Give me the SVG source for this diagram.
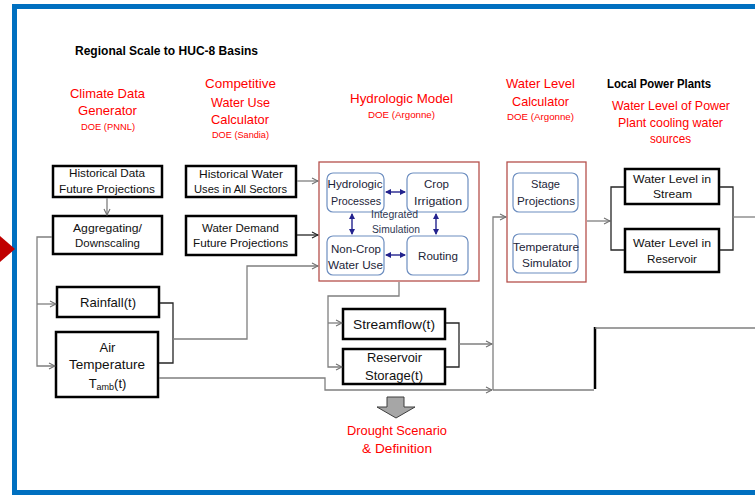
<svg xmlns="http://www.w3.org/2000/svg" width="755" height="495" viewBox="0 0 755 495">
<style>
text{font-family:"Liberation Sans",Arial,sans-serif;text-anchor:middle}
.red{fill:#ff0000;font-size:13px}
.rs{fill:#ff0000;font-size:9.5px}
.hd{fill:#000;font-size:12px;font-weight:bold}
.lbl{fill:#111;font-size:11.8px}
.big{fill:#111;font-size:13px}
.in{fill:#1c2438;font-size:11.8px}
.sim{fill:#2f3852;font-size:10px}
.bx{fill:#fff;stroke:#000;stroke-width:2.5}
.rb{fill:#fff;stroke:#6d8ec0;stroke-width:1.2}
.mb{fill:#fff;stroke:#b5504c;stroke-width:1.3}
.g{fill:none;stroke:#7f7f7f;stroke-width:1.3}
.d{fill:none;stroke:#262626;stroke-width:1.3}
.nv{fill:none;stroke:#23238e;stroke-width:1.4}
</style>
<defs>
<marker id="ag" markerWidth="8" markerHeight="8" refX="7" refY="4" orient="auto" markerUnits="userSpaceOnUse"><path d="M1,1 L7,4 L1,7" fill="none" stroke="#6f6f6f" stroke-width="1.1"/></marker>
<marker id="ad" markerWidth="8" markerHeight="8" refX="7" refY="4" orient="auto" markerUnits="userSpaceOnUse"><path d="M1,1 L7,4 L1,7" fill="none" stroke="#222" stroke-width="1.1"/></marker>
<marker id="an" markerWidth="6" markerHeight="6" refX="5" refY="3" orient="auto-start-reverse" markerUnits="userSpaceOnUse"><path d="M0,0 L6,3 L0,6 z" fill="#23238e"/></marker>
</defs>
<rect width="755" height="495" fill="#fff"/>
<rect x="14.5" y="6.5" width="800" height="486" fill="none" stroke="#0070c0" stroke-width="5"/>
<polygon points="0,236 15,249 0,262" fill="#c00000"/>

<g id="headings">
<text class="hd" x="166.5" y="55" textLength="183" lengthAdjust="spacingAndGlyphs">Regional Scale to HUC-8 Basins</text>
<text class="red" x="107.5" y="98" textLength="75" lengthAdjust="spacingAndGlyphs">Climate Data</text>
<text class="red" x="107.5" y="114.5" textLength="59" lengthAdjust="spacingAndGlyphs">Generator</text>
<text class="rs" x="108" y="130" textLength="54" lengthAdjust="spacingAndGlyphs">DOE (PNNL)</text>
<text class="red" x="240.5" y="88" textLength="71" lengthAdjust="spacingAndGlyphs">Competitive</text>
<text class="red" x="240.5" y="106.5" textLength="59" lengthAdjust="spacingAndGlyphs">Water Use</text>
<text class="red" x="240" y="124" textLength="58" lengthAdjust="spacingAndGlyphs">Calculator</text>
<text class="rs" x="240.5" y="138" textLength="57" lengthAdjust="spacingAndGlyphs">DOE (Sandia)</text>
<text class="red" x="401.5" y="103" textLength="103" lengthAdjust="spacingAndGlyphs">Hydrologic Model</text>
<text class="rs" x="401.5" y="118" textLength="67" lengthAdjust="spacingAndGlyphs">DOE (Argonne)</text>
<text class="red" x="540.5" y="88" textLength="69" lengthAdjust="spacingAndGlyphs">Water Level</text>
<text class="red" x="540.5" y="106" textLength="57" lengthAdjust="spacingAndGlyphs">Calculator</text>
<text class="rs" x="540.5" y="120" textLength="67" lengthAdjust="spacingAndGlyphs">DOE (Argonne)</text>
<text class="hd" x="659" y="88" textLength="104" lengthAdjust="spacingAndGlyphs">Local Power Plants</text>
<text class="red" x="671" y="110" textLength="118" lengthAdjust="spacingAndGlyphs">Water Level of  Power</text>
<text class="red" x="670.5" y="127" textLength="105" lengthAdjust="spacingAndGlyphs">Plant cooling water</text>
<text class="red" x="670.5" y="143" textLength="41" lengthAdjust="spacingAndGlyphs">sources</text>
</g>

<g id="hist-data">
<rect class="bx" x="53" y="166" width="109" height="31"/>
<text class="lbl" x="107" y="177" textLength="76" lengthAdjust="spacingAndGlyphs">Historical Data</text>
<text class="lbl" x="107" y="193" textLength="96" lengthAdjust="spacingAndGlyphs">Future Projections</text>
</g>
<g id="aggregating">
<rect class="bx" x="53" y="216" width="109" height="38"/>
<text class="lbl" x="107.5" y="232" textLength="69" lengthAdjust="spacingAndGlyphs">Aggregating/</text>
<text class="lbl" x="107.5" y="247" textLength="65" lengthAdjust="spacingAndGlyphs">Downscaling</text>
</g>
<g id="hist-water">
<rect class="bx" x="186" y="166" width="110" height="31"/>
<text class="lbl" x="241" y="178" textLength="84" lengthAdjust="spacingAndGlyphs">Historical Water</text>
<text class="lbl" x="240.5" y="193" textLength="93" lengthAdjust="spacingAndGlyphs">Uses in All Sectors</text>
</g>
<g id="water-demand">
<rect class="bx" x="186" y="216" width="110" height="39"/>
<text class="lbl" x="240.5" y="232" textLength="77" lengthAdjust="spacingAndGlyphs">Water Demand</text>
<text class="lbl" x="240.5" y="247" textLength="95" lengthAdjust="spacingAndGlyphs">Future Projections</text>
</g>
<g id="rainfall">
<rect class="bx" x="57" y="287" width="102" height="30"/>
<text class="big" x="108" y="307" textLength="56" lengthAdjust="spacingAndGlyphs">Rainfall(t)</text>
</g>
<g id="air-temperature">
<rect class="bx" x="56" y="332" width="102" height="65"/>
<text class="big" x="107.5" y="352">Air</text>
<text class="big" x="107" y="369" textLength="76" lengthAdjust="spacingAndGlyphs">Temperature</text>
<text class="big" x="107.5" y="388">T<tspan font-size="9" dy="2">amb</tspan><tspan dy="-2">(t)</tspan></text>
</g>

<g id="hydrologic-model">
<rect class="mb" x="319" y="162" width="160" height="119"/>
<rect class="rb" x="327" y="173" width="57" height="39" rx="6"/>
<text class="in" x="355" y="188" textLength="55" lengthAdjust="spacingAndGlyphs">Hydrologic</text>
<text class="in" x="356" y="205" textLength="50" lengthAdjust="spacingAndGlyphs">Processes</text>
<rect class="rb" x="407" y="173" width="61" height="39" rx="6"/>
<text class="in" x="436.5" y="188" textLength="25" lengthAdjust="spacingAndGlyphs">Crop</text>
<text class="in" x="438" y="205" textLength="48" lengthAdjust="spacingAndGlyphs">Irrigation</text>
<rect class="rb" x="327" y="236" width="57" height="39" rx="6"/>
<text class="in" x="356" y="253" textLength="50" lengthAdjust="spacingAndGlyphs">Non-Crop</text>
<text class="in" x="355.5" y="269" textLength="55" lengthAdjust="spacingAndGlyphs">Water Use</text>
<rect class="rb" x="407" y="236" width="61" height="39" rx="6"/>
<text class="in" x="438" y="260" textLength="40" lengthAdjust="spacingAndGlyphs">Routing</text>
<text class="sim" x="394.5" y="218" textLength="47" lengthAdjust="spacingAndGlyphs">Integrated</text>
<text class="sim" x="396" y="233" textLength="48" lengthAdjust="spacingAndGlyphs">Simulation</text>
</g>

<g id="water-level-calculator">
<rect class="mb" x="507" y="162" width="79" height="120"/>
<rect class="rb" x="513" y="173" width="65" height="39" rx="6"/>
<text class="in" x="545.5" y="188" textLength="29" lengthAdjust="spacingAndGlyphs">Stage</text>
<text class="in" x="546" y="205" textLength="58" lengthAdjust="spacingAndGlyphs">Projections</text>
<rect class="rb" x="513" y="234" width="65" height="39" rx="6"/>
<text class="in" x="546" y="251" textLength="66" lengthAdjust="spacingAndGlyphs">Temperature</text>
<text class="in" x="547" y="267" textLength="50" lengthAdjust="spacingAndGlyphs">Simulator</text>
</g>

<g id="streamflow">
<rect class="bx" x="343" y="309" width="102" height="30"/>
<text class="big" x="394" y="329" textLength="82" lengthAdjust="spacingAndGlyphs">Streamflow(t)</text>
</g>
<g id="reservoir-storage">
<rect class="bx" x="343" y="349" width="102" height="35"/>
<text class="big" x="394.5" y="362" textLength="55" lengthAdjust="spacingAndGlyphs">Reservoir</text>
<text class="big" x="394" y="380" textLength="58" lengthAdjust="spacingAndGlyphs">Storage(t)</text>
</g>

<g id="wl-stream">
<rect class="bx" x="625" y="169" width="94" height="35"/>
<text class="lbl" x="672" y="183" textLength="78" lengthAdjust="spacingAndGlyphs">Water Level in</text>
<text class="lbl" x="672.5" y="198" textLength="39" lengthAdjust="spacingAndGlyphs">Stream</text>
</g>
<g id="wl-reservoir">
<rect class="bx" x="625" y="229" width="94" height="43"/>
<text class="lbl" x="672" y="247" textLength="78" lengthAdjust="spacingAndGlyphs">Water Level in</text>
<text class="lbl" x="672" y="263" textLength="50" lengthAdjust="spacingAndGlyphs">Reservoir</text>
</g>

<g id="drought">
<polygon points="387,397 404,397 404,407 415,407 396,418 377,407 387,407" fill="#a6a6a6" stroke="#3f3f3f" stroke-width="1"/>
<text class="red" x="397" y="435" textLength="100" lengthAdjust="spacingAndGlyphs">Drought Scenario</text>
<text class="red" x="397" y="453" textLength="70" lengthAdjust="spacingAndGlyphs">&amp; Definition</text>
</g>

<g id="connectors">
<path class="g" d="M107,198 V215" marker-end="url(#ag)"/>
<path class="g" d="M52,237 H37 V366 H55" marker-end="url(#ag)"/>
<path class="g" d="M37,304 H56" marker-end="url(#ag)"/>
<path class="g" d="M297,181 H318" marker-end="url(#ag)"/>
<path class="d" d="M297,235 H318" marker-end="url(#ad)"/>
<path class="d" d="M160,303 H173 V363 H159"/>
<path class="g" d="M173,339 H247 V266 H318" marker-end="url(#ag)"/>
<path class="g" d="M159,378 H325 V390 H492" marker-end="url(#ag)"/>
<path class="g" d="M493,390 V217 H506" marker-end="url(#ag)"/>
<path class="g" d="M493,390 H594"/>
<path d="M595,389 V327" fill="none" stroke="#000" stroke-width="2.5"/>
<path class="g" d="M595,328 H755"/>
<path class="g" d="M399,282 V296 H328 V367 H342" marker-end="url(#ag)"/>
<path class="g" d="M328,323 H342" marker-end="url(#ag)"/>
<path class="d" d="M446,323 H459 V367 H446"/>
<path class="g" d="M459,344 H492" marker-end="url(#ag)"/>
<path class="g" d="M587,221 H610" marker-end="url(#ag)"/>
<path class="d" d="M624,187 H611 V250 H624"/>
<path class="d" d="M720,187 H733 V250 H720"/>
<path class="g" d="M733,217 H755"/>
<path class="nv" d="M386,192 H405" marker-start="url(#an)" marker-end="url(#an)"/>
<path class="nv" d="M386,255 H405" marker-start="url(#an)" marker-end="url(#an)"/>
<path class="nv" d="M352,214 V234" marker-start="url(#an)" marker-end="url(#an)"/>
<path class="nv" d="M436,214 V234" marker-start="url(#an)" marker-end="url(#an)"/>
</g>
</svg>
